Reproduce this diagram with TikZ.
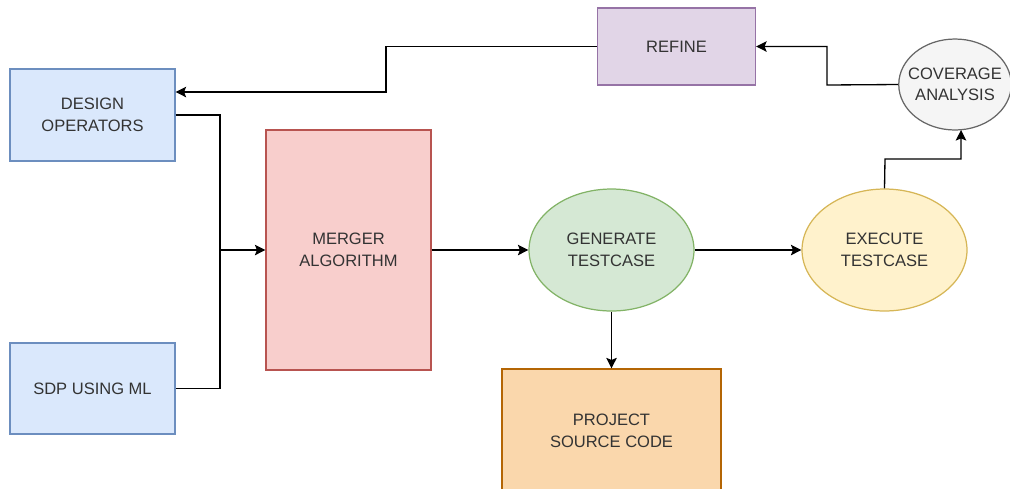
\documentclass[tikz,border=0pt]{standalone}
\usepackage{fontspec}
\setmainfont{Liberation Sans}
\usepackage{tikz}
\usetikzlibrary{arrows.meta,positioning,calc,shapes.geometric}

\definecolor{blueF}{HTML}{DAE8FC}\definecolor{blueD}{HTML}{6C8EBF}
\definecolor{redF}{HTML}{F8CECC}\definecolor{redD}{HTML}{B85450}
\definecolor{greenF}{HTML}{D5E8D4}\definecolor{greenD}{HTML}{82B366}
\definecolor{yellowF}{HTML}{FFF2CC}\definecolor{yellowD}{HTML}{D6B656}
\definecolor{grayF}{HTML}{F5F5F5}\definecolor{grayD}{HTML}{666666}
\definecolor{purpleF}{HTML}{E1D5E7}\definecolor{purpleD}{HTML}{9673A6}
\definecolor{orangeF}{HTML}{FAD7AC}\definecolor{orangeD}{HTML}{B46504}
\definecolor{txt}{HTML}{333333}

\tikzset{
    block/.style={rectangle,draw,line width=0.7pt,inner sep=0pt,align=center,
        text=txt,font=\fontsize{9.4}{12.2}\selectfont},
    oval/.style={block,ellipse},
    arr/.style={-{Stealth[length=6pt,width=6pt,inset=1.2pt]},line width=0.75pt},
}

\begin{document}
\begin{tikzpicture}[x=0.02cm,y=-0.02cm]
        \useasboundingbox (0,0) rectangle (1010,488);

        % Boxes
        \node[block,fill=blueF,draw=blueD,minimum width=3.3cm,minimum height=1.84cm] (design) at (92.5,115) {DESIGN\\OPERATORS};
        \node[block,fill=blueF,draw=blueD,minimum width=3.3cm,minimum height=1.82cm] (sdp) at (92.5,388.5) {SDP USING ML};
        \node[block,fill=redF,draw=redD,minimum width=3.3cm,minimum height=4.8cm] (merger) at (348.5,250) {MERGER\\ALGORITHM};
        \node[block,fill=purpleF,draw=purpleD,minimum width=3.16cm,minimum height=1.54cm] (refine) at (676.5,46.5) {REFINE};
        \node[block,fill=orangeF,draw=orangeD,minimum width=4.38cm,minimum height=2.48cm] (project) at (611.5,431) {PROJECT\\SOURCE CODE};

        % Ellipses
        \node[oval,fill=greenF,draw=greenD,minimum width=3.3cm,minimum height=2.44cm] (generate) at (611.5,250) {GENERATE\\TESTCASE};
        \node[oval,fill=yellowF,draw=yellowD,minimum width=3.3cm,minimum height=2.44cm] (execute) at (884.5,250) {EXECUTE\\TESTCASE};
        \node[oval,fill=grayF,draw=grayD,inner xsep=-4pt,minimum width=2.24cm,minimum height=1.82cm] (coverage) at (955,84.5) {COVERAGE\\ANALYSIS};

        % Bend points
        \coordinate (join) at (220,250);
        \coordinate (back) at (386,92);
        \coordinate (turn) at (827,85);
        \coordinate (rise) at (885,159);
        \coordinate (cin) at (961,130);

        % Connectors
        \draw[line width=0.75pt] (sdp.east) -| (join);
        \draw[arr] (design.east) -| (join) -- (merger.west);
        \draw[arr] (merger.east) -- (generate.west);
        \draw[arr] (generate.east) -- (execute.west);
        \draw[arr] (generate.south) -- (project.north);
        \draw[arr] (execute.north) -- (rise) -| (cin);
        \draw[arr] (coverage.west) -- (turn) |- (refine.east);
        \draw[arr] (refine.west) -| (back) -- (back -| design.east);
\end{tikzpicture}
\end{document}
